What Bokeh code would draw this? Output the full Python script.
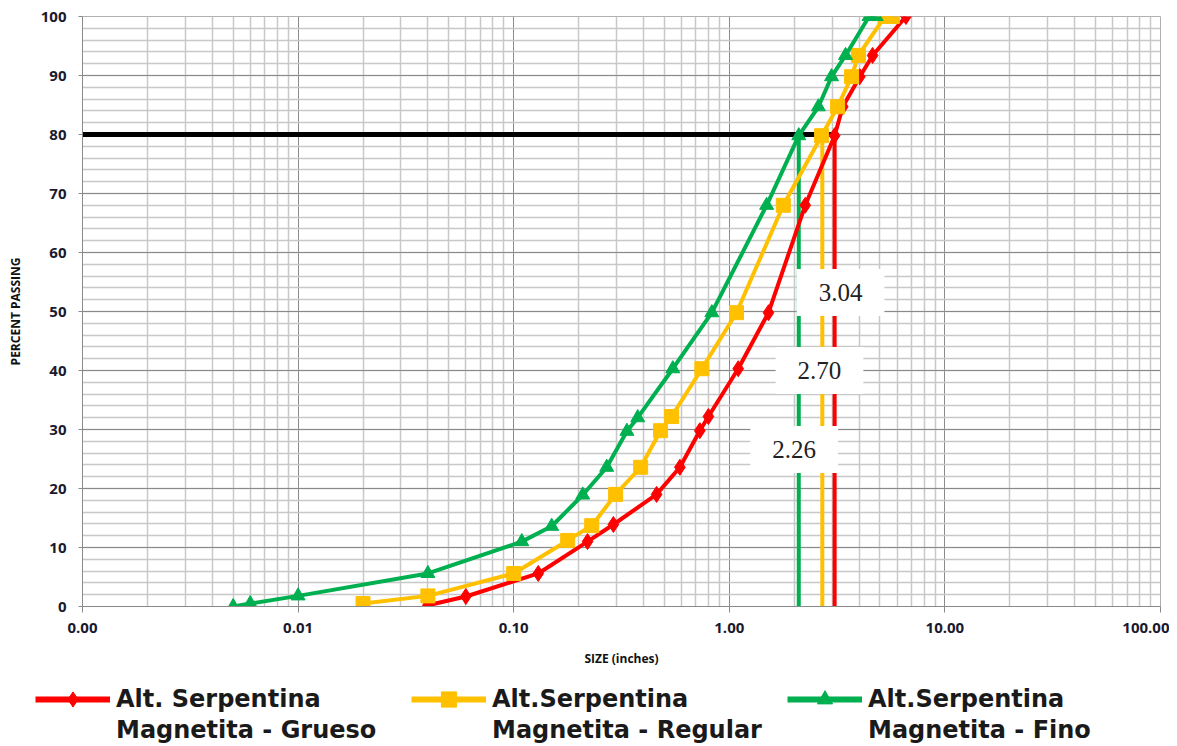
from bokeh.plotting import figure
from bokeh.layouts import column
from bokeh.models import (FixedTicker, Legend, LegendItem, Label, NumeralTickFormatter, Range1d)
from bokeh.embed import file_html
from bokeh.resources import INLINE

# ---------------- data ----------------
grueso_x = [0.04, 0.06, 0.13, 0.22, 0.29, 0.46, 0.59, 0.73, 0.80, 1.10, 1.52, 2.25, 3.08, 3.36, 4.03, 4.62, 6.60]
grueso_y = [0.2, 1.7, 5.6, 11.0, 13.9, 19.0, 23.6, 29.8, 32.2, 40.3, 49.8, 68.0, 79.8, 84.7, 89.8, 93.4, 100.0]

regular_x = [0.02, 0.04, 0.10, 0.178, 0.23, 0.297, 0.388, 0.48, 0.54, 0.746, 1.08, 1.78, 2.68, 3.18, 3.69, 3.97, 5.27, 5.70]
regular_y = [0.5, 1.8, 5.6, 11.2, 13.7, 19.0, 23.6, 29.8, 32.2, 40.3, 49.8, 68.0, 79.8, 84.7, 89.8, 93.4, 100.0, 100.0]

fino_x = [0.005, 0.006, 0.01, 0.04, 0.109, 0.15, 0.209, 0.27, 0.335, 0.376, 0.547, 0.83, 1.49, 2.10, 2.59, 2.98, 3.46, 4.45, 4.80]
fino_y = [0.0, 0.5, 1.8, 5.6, 11.0, 13.6, 18.9, 23.6, 29.7, 32.0, 40.3, 49.8, 68.0, 79.8, 84.7, 89.8, 93.4, 100.0, 100.0]

series_names_1 = ["Alt. Serpentina", "Alt.Serpentina", "Alt.Serpentina"]
series_names_2 = ["Magnetita - Grueso", "Magnetita - Regular", "Magnetita - Fino"]
colors = ["#FF0000", "#FFC000", "#00B050"]
markers = ["diamond", "square", "triangle"]
marker_sizes = [16, 14, 14]

d80_lines = [3.08, 2.70, 2.10]         # positions of vertical P80 lines
d80_labels = ["3.04", "2.70", "2.26"]
label_x = [3.28, 2.62, 2.00]
label_y = [53.2, 40.0, 26.6]
p80 = 80

x_major = [0.001, 0.01, 0.1, 1, 10, 100]
x_minor = [m * d for d in [0.001, 0.01, 0.1, 1, 10] for m in range(2, 10)]
y_major = list(range(0, 101, 10))
y_minor = list(range(0, 101, 2))

# ---------------- main figure ----------------
p = figure(x_axis_type="log", x_range=Range1d(0.001, 100), y_range=Range1d(0, 100),
           frame_width=1078, frame_height=590,
           min_border_left=82, min_border_right=9, min_border_top=16, min_border_bottom=64,
           output_backend="svg", toolbar_location=None)
p.background_fill_color = "white"
p.outline_line_color = "#b0b0b0"

p.xaxis.ticker = FixedTicker(ticks=x_major, minor_ticks=x_minor)
p.yaxis.ticker = FixedTicker(ticks=y_major, minor_ticks=y_minor)
p.xaxis.formatter = NumeralTickFormatter(format="0.00")

p.xgrid.grid_line_color = "#8a8a8a"
p.xgrid.minor_grid_line_color = "#c8c8c8"
p.xgrid.minor_grid_line_width = 1.5
p.ygrid.grid_line_color = "#8a8a8a"
p.ygrid.minor_grid_line_color = "#c8c8c8"
p.ygrid.minor_grid_line_width = 1.5

for ax in (p.xaxis, p.yaxis):
    ax.axis_line_color = "#8a8a8a"
    ax.major_tick_line_color = "#8a8a8a"
    ax.minor_tick_line_color = None
    ax.major_tick_in = 0
    ax.major_tick_out = 6
    ax.major_label_text_font = "Open Sans"
    ax.major_label_text_font_style = "bold"
    ax.major_label_text_font_size = "15px"
    ax.major_label_text_color = "#1a1a2e"
    ax.axis_label_text_font = "Open Sans"
    ax.axis_label_text_font_style = "bold"
    ax.axis_label_text_font_size = "12px"
    ax.axis_label_text_color = "#111111"

p.xaxis.axis_label = "SIZE (inches)"
p.yaxis.axis_label = "PERCENT PASSING"
p.yaxis.major_tick_out = 4
p.xaxis.major_label_standoff = 10
p.xaxis.axis_label_standoff = 14
p.yaxis.major_label_standoff = 12
p.yaxis.axis_label_standoff = 14

# P80 reference lines
p.segment(x0=[0.001], y0=[p80], x1=[d80_lines[0]], y1=[p80], line_color="black", line_width=5)
p.segment(x0=d80_lines, y0=[0, 0, 0], x1=d80_lines, y1=[p80] * 3, line_color=colors, line_width=4)

# series
for xs, ys, c, m, s in zip([grueso_x, regular_x, fino_x], [grueso_y, regular_y, fino_y],
                           colors, markers, marker_sizes):
    p.line(xs, ys, line_color=c, line_width=4)
    p.scatter(xs, ys, marker=m, size=s, fill_color=c, line_color=c)

# P80 value labels
for lx, ly, t in zip(label_x, label_y, d80_labels):
    p.add_layout(Label(x=lx, y=ly, text=t, text_align="center", text_baseline="middle",
                       text_font="Liberation Serif", text_font_size="25px", text_color="#222222",
                       background_fill_color="white", padding=dict(left=22, right=22, top=15, bottom=15)))

# ---------------- legend strip ----------------
lf = figure(width=1177, height=76, x_range=Range1d(0, 1), y_range=Range1d(0, 1),
            min_border=0, output_backend="svg", toolbar_location=None)
lf.axis.visible = False
lf.grid.visible = False
lf.outline_line_color = None

rs = []
for c, m, s in zip(colors, markers, marker_sizes):
    r1 = lf.line(x=[-5, -4], y=[-5, -5], line_color=c, line_width=6)
    r2 = lf.scatter(x=[-5], y=[-5], marker=m, size=s, fill_color=c, line_color=c)
    rs.append([r1, r2])
dummy = lf.line(x=[-5, -4], y=[-5, -5], line_alpha=0)

leg1 = Legend(items=[LegendItem(label=n, renderers=r) for n, r in zip(series_names_1, rs)],
              orientation="horizontal", location=(35, 28))
leg2 = Legend(items=[LegendItem(label=n, renderers=[dummy]) for n in series_names_2],
              orientation="horizontal", location=(35, 2))
for lg, gh in ((leg1, 38), (leg2, 24)):
    lg.label_text_font = "DejaVu Sans"
    lg.label_text_font_style = "bold"
    lg.label_text_font_size = "24px"
    lg.label_text_color = "#1a1a1a"
    lg.glyph_width = 75
    lg.glyph_height = gh
    lg.label_height = 24
    lg.label_standoff = 6
    lg.label_width = 290
    lg.spacing = 5
    lg.padding = 0
    lg.margin = 0
    lg.border_line_color = None
    lg.background_fill_alpha = 0
lf.add_layout(leg1, "center")
lf.add_layout(leg2, "center")

open("out.html", "w").write(file_html(column(p, column(lf, spacing=0), spacing=0), INLINE))
